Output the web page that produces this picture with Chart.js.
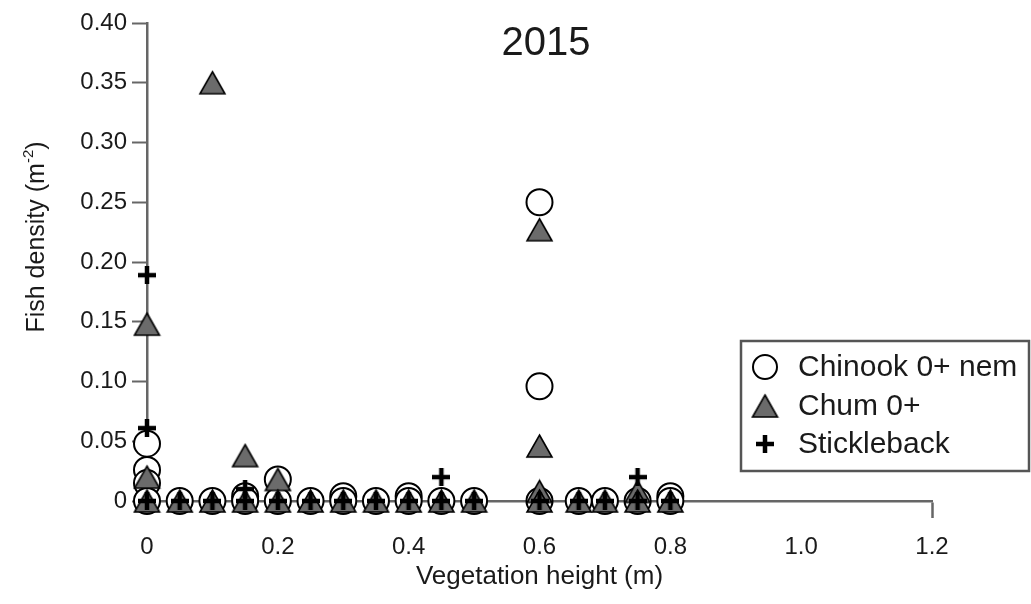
<!DOCTYPE html>
<html><head><meta charset="utf-8">
<script src="https://cdn.jsdelivr.net/npm/chart.js@4.4.0/dist/chart.umd.min.js"></script>
<style>html,body{margin:0;padding:0;background:#fff;overflow:hidden}#wrap{width:1031px;height:604px;position:relative}</style>
</head><body><div id="wrap"><canvas id="c" width="1031" height="604"></canvas></div>
<script>
const chartTitle = '2015';
const xAxisTitle = 'Vegetation height (m)';
const yAxisTitleMain = 'Fish density (m';
const yAxisTitleSup = '-2';
const yAxisTitleEnd = ')';
const xTickLabels = ['0','0.2','0.4','0.6','0.8','1.0','1.2'];
const yTickLabels = ['0','0.05','0.10','0.15','0.20','0.25','0.30','0.35','0.40'];
const seriesNames = ['Chinook 0+ nem','Chum 0+','Stickleback'];

const chinookX = [0,0,0,0, 0.05, 0.1, 0.15,0.15, 0.2,0.2, 0.25, 0.3,0.3, 0.35, 0.4,0.4, 0.45, 0.5, 0.6,0.6,0.6, 0.66, 0.7, 0.75, 0.8,0.8];
const chinookY = [0.048,0.026,0.015,0, 0, 0, 0.004,0, 0.018,0, 0, 0.004,0, 0, 0.004,0, 0, 0, 0.25,0.096,0, 0, 0, 0, 0.004,0];

const chumX = [0,0,0, 0.05, 0.1,0.1, 0.15,0.15, 0.2,0.2, 0.25, 0.3, 0.35, 0.4, 0.45, 0.5, 0.6,0.6,0.6,0.6, 0.66, 0.7, 0.75,0.75, 0.8];
const chumY = [0.148,0.02,0, 0, 0.35,0, 0.038,0, 0.018,0, 0, 0, 0, 0, 0, 0, 0.227,0.046,0.008,0, 0, 0, 0.008,0, 0];

const stickX = [0,0,0, 0.05, 0.1, 0.15,0.15, 0.2, 0.25, 0.3, 0.35, 0.4, 0.45,0.45, 0.5, 0.6, 0.66, 0.7, 0.75,0.75, 0.8];
const stickY = [0.189,0.061,0, 0, 0, 0.01,0, 0, 0, 0, 0, 0, 0.02,0, 0, 0, 0, 0, 0.02,0, 0];

const FONT = '"Liberation Sans", Arial, Helvetica, sans-serif';
const TXT = '#1a1a1a';

function makeTriangle(w, h, fill, stroke, lw) {
  const c = document.createElement('canvas');
  c.width = w + 4; c.height = h + 4;
  const g = c.getContext('2d');
  g.beginPath();
  g.moveTo(c.width / 2, 2);
  g.lineTo(c.width - 2, c.height - 2);
  g.lineTo(2, c.height - 2);
  g.closePath();
  g.fillStyle = fill; g.fill();
  g.lineWidth = lw; g.strokeStyle = stroke; g.lineJoin = 'miter'; g.stroke();
  return c;
}
function makePlus(size, lw, color) {
  const c = document.createElement('canvas');
  c.width = size; c.height = size;
  const g = c.getContext('2d');
  g.strokeStyle = color; g.lineWidth = lw;
  g.beginPath();
  g.moveTo(size / 2, 0); g.lineTo(size / 2, size);
  g.moveTo(0, size / 2); g.lineTo(size, size / 2);
  g.stroke();
  return c;
}
const triImg = makeTriangle(25, 22, '#6b6b6b', '#000', 1.6);
const plusImg = makePlus(18, 4.5, '#000');

const pts = (xs, ys) => xs.map((x, i) => ({x: x, y: ys[i]}));

const textPlugin = {
  id: 'texts',
  afterDraw(chart) {
    const ctx = chart.ctx;
    ctx.save();
    ctx.fillStyle = TXT;
    ctx.font = '40px ' + FONT;
    ctx.textAlign = 'center';
    ctx.textBaseline = 'middle';
    ctx.fillText(chartTitle, 546, 44);

    ctx.save();
    ctx.translate(37, 237);
    ctx.rotate(-Math.PI / 2);
    const fMain = '25px ' + FONT, fSup = '15px ' + FONT;
    ctx.font = fMain; const w1 = ctx.measureText(yAxisTitleMain).width; const w3 = ctx.measureText(yAxisTitleEnd).width;
    ctx.font = fSup; const w2 = ctx.measureText(yAxisTitleSup).width;
    const W = w1 + w2 + w3;
    ctx.textAlign = 'left'; ctx.textBaseline = 'middle';
    let x = -W / 2;
    ctx.font = fMain; ctx.fillText(yAxisTitleMain, x, 0); x += w1;
    ctx.font = fSup; ctx.fillText(yAxisTitleSup, x, -8); x += w2;
    ctx.font = fMain; ctx.fillText(yAxisTitleEnd, x, 0);
    ctx.restore();

    ctx.strokeStyle = '#555';
    ctx.lineWidth = 2.5;
    ctx.fillStyle = '#fff';
    ctx.fillRect(741, 341, 288, 130);
    ctx.strokeRect(741, 341, 288, 130);
    const rows = [367, 406, 444];
    ctx.beginPath();
    ctx.arc(765, rows[0], 12, 0, Math.PI * 2);
    ctx.fillStyle = '#fff'; ctx.fill();
    ctx.lineWidth = 2; ctx.strokeStyle = '#000'; ctx.stroke();
    ctx.drawImage(triImg, 765 - triImg.width / 2, rows[1] - triImg.height / 2);
    ctx.drawImage(plusImg, 765 - plusImg.width / 2, rows[2] - plusImg.height / 2);
    ctx.fillStyle = TXT;
    ctx.font = '30px ' + FONT;
    ctx.textAlign = 'left'; ctx.textBaseline = 'middle';
    seriesNames.forEach((n, i) => ctx.fillText(n, 798, rows[i] + 1));
    ctx.restore();
  }
};

new Chart(document.getElementById('c'), {
  type: 'scatter',
  data: {
    datasets: [
      {label: seriesNames[0], data: pts(chinookX, chinookY), pointStyle: 'circle', pointRadius: 13,
       pointBackgroundColor: '#fff', pointBorderColor: '#000', pointBorderWidth: 2, showLine: false, clip: false, order: 3},
      {label: seriesNames[1], data: pts(chumX, chumY), pointStyle: triImg, pointRadius: 13,
       showLine: false, clip: false, order: 2},
      {label: seriesNames[2], data: pts(stickX, stickY), pointStyle: plusImg, pointRadius: 9,
       showLine: false, clip: false, order: 1}
    ]
  },
  options: {
    responsive: false,
    animation: false,
    events: [],
    layout: {padding: {left: 0, right: 99, top: 23, bottom: 0}},
    plugins: {legend: {display: false}, tooltip: {enabled: false}},
    scales: {
      x: {
        type: 'linear', min: 0, max: 1.2,
        afterFit(s) { s.height = 103; },
        border: {display: true, color: '#666', width: 2.5},
        grid: {display: true, drawOnChartArea: false, drawTicks: true, tickLength: 17, tickWidth: 2.5,
               tickColor: (c) => c.index === xTickLabels.length - 1 ? '#666' : 'rgba(0,0,0,0)'},
        ticks: {stepSize: 0.2, padding: 15, maxRotation: 0, autoSkip: false, color: TXT,
                font: {family: FONT, size: 24}, callback: (v, i) => xTickLabels[i]},
        title: {display: true, text: xAxisTitle, color: TXT, font: {family: FONT, size: 26}, padding: {top: 0, bottom: 12}}
      },
      y: {
        type: 'linear', min: 0, max: 0.4,
        afterFit(s) { s.width = 147; },
        border: {display: true, color: '#666', width: 2.5},
        grid: {display: true, drawOnChartArea: false, drawTicks: true, tickLength: 15, tickWidth: 2, tickColor: '#666'},
        ticks: {stepSize: 0.05, padding: 5, color: TXT, font: {family: FONT, size: 24}, callback: (v, i) => yTickLabels[i]}
      }
    }
  },
  plugins: [textPlugin]
});
</script>
</body></html>
